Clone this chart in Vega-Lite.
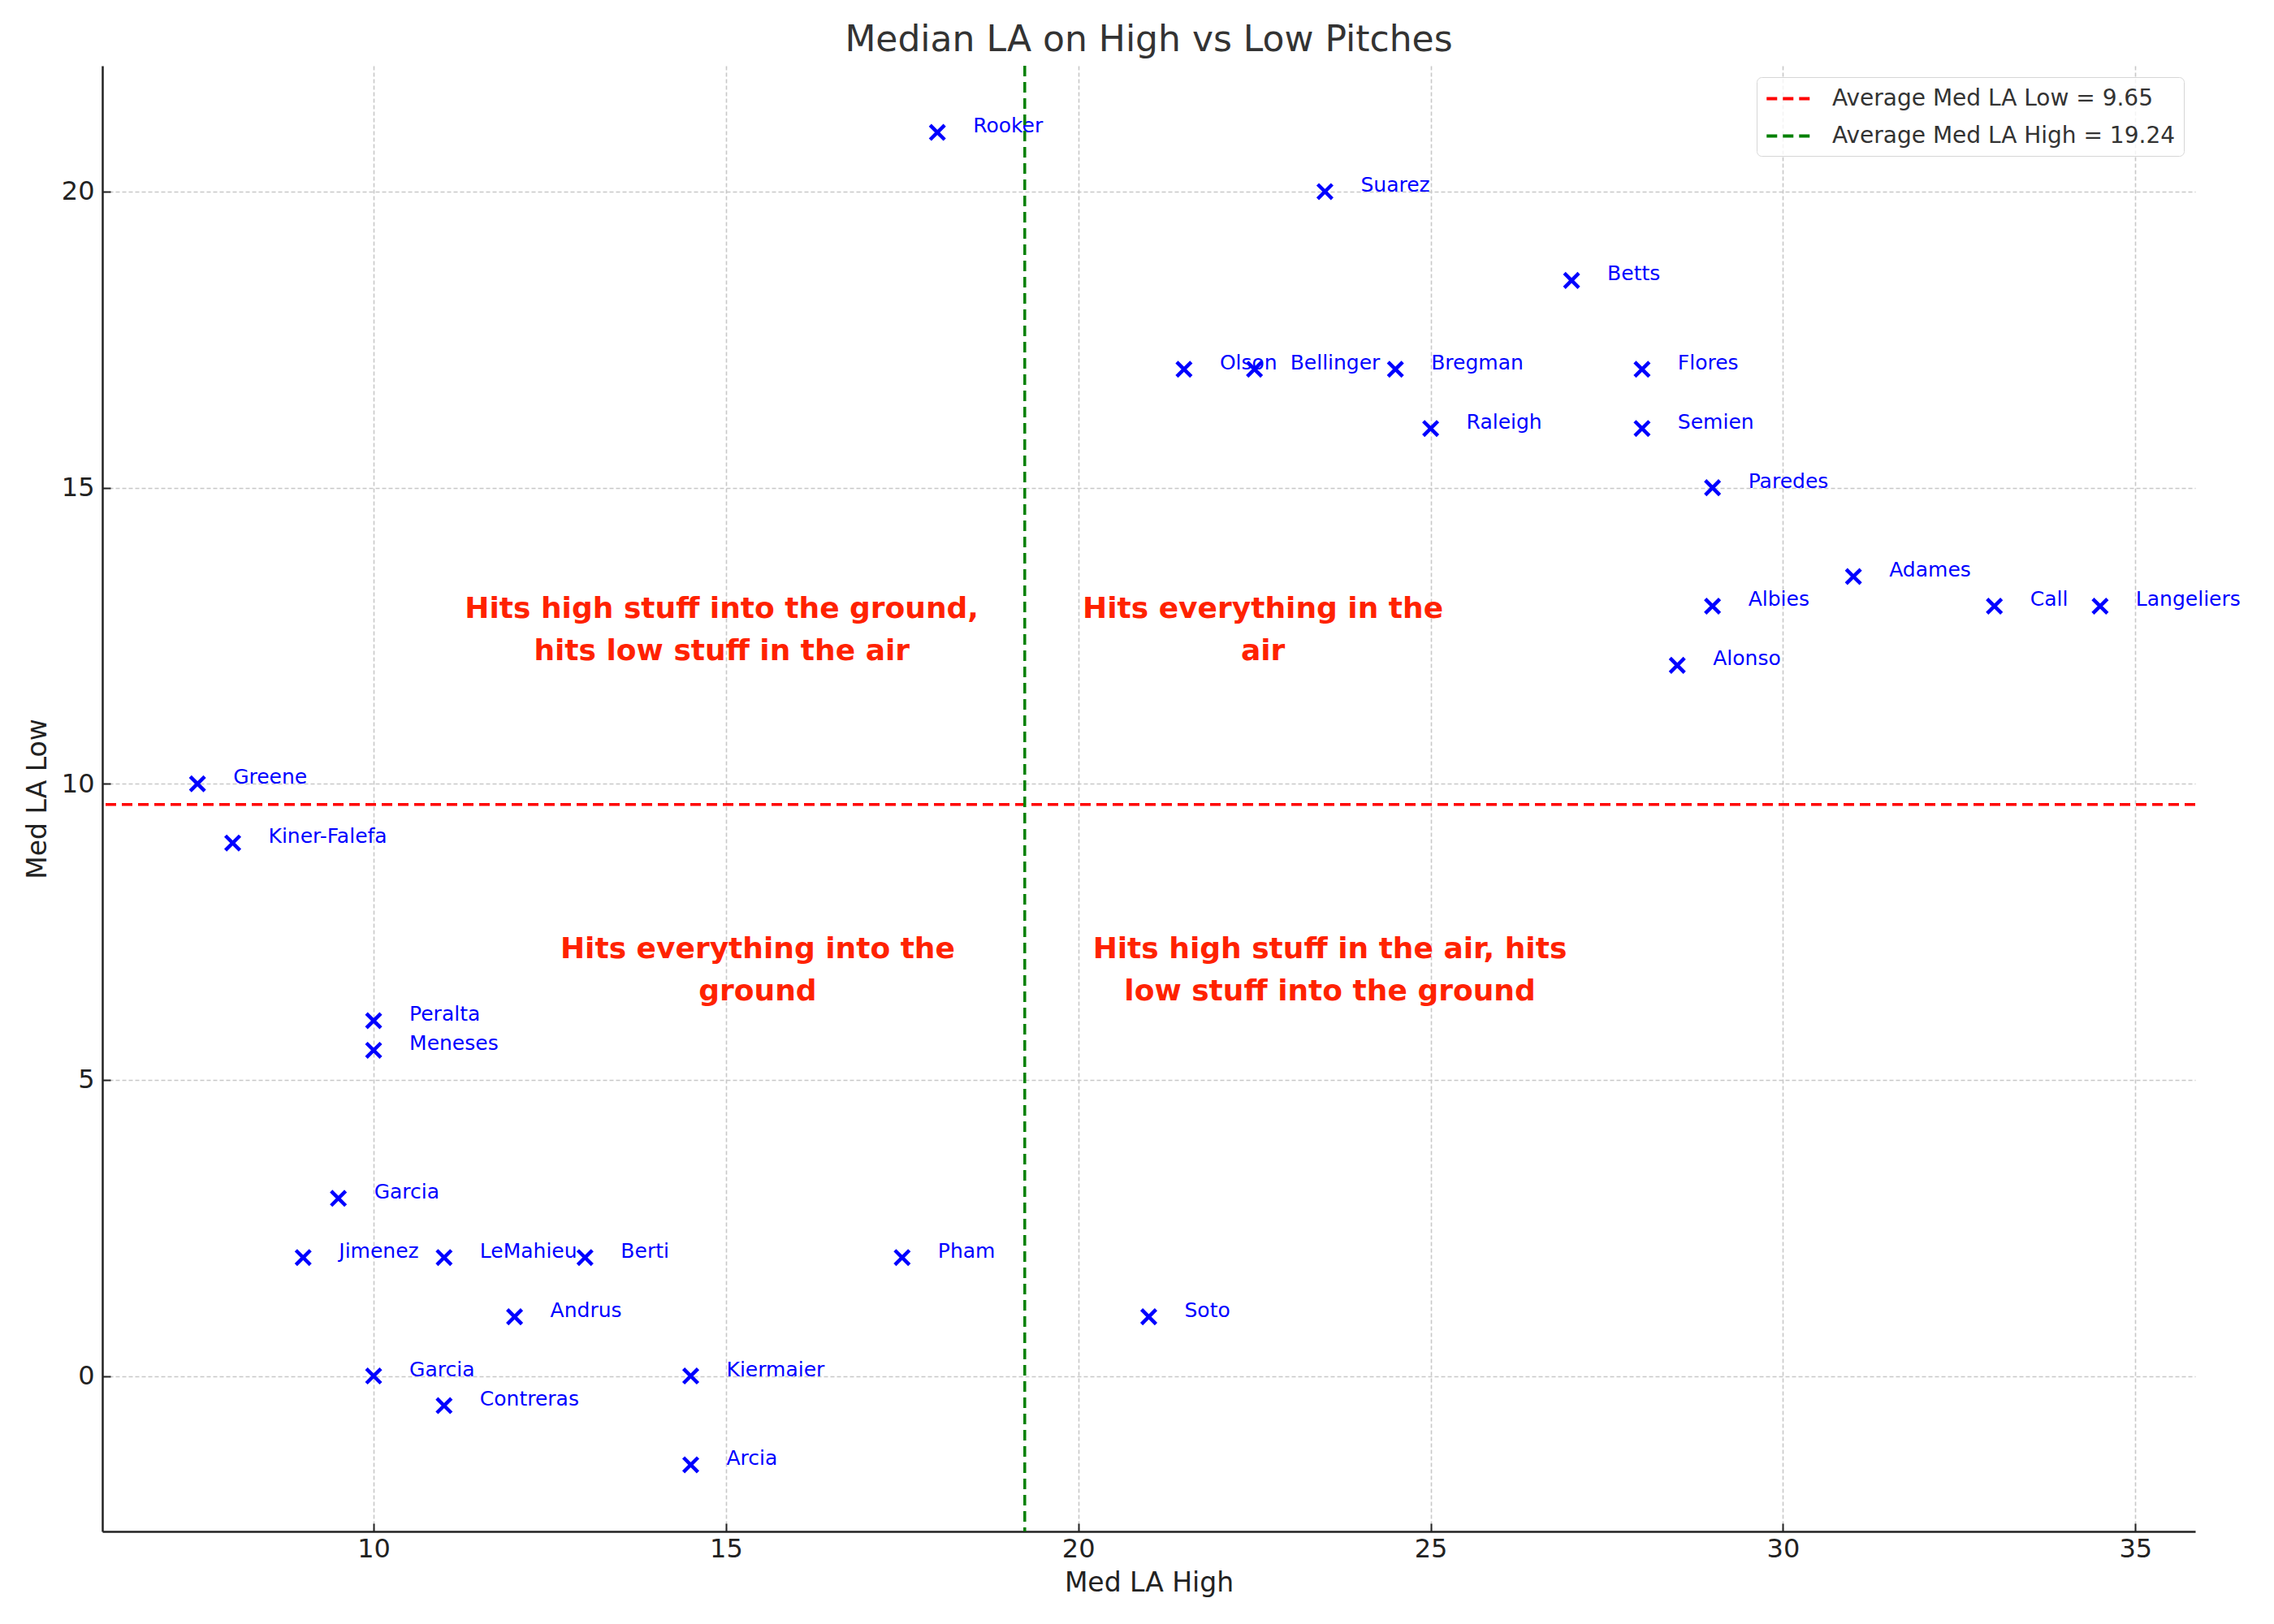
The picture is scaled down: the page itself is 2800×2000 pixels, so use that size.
{
  "$schema": "https://vega.github.io/schema/vega-lite/v6.json",
  "width": 2577,
  "height": 1805,
  "autosize": "none",
  "padding": {"left": 126, "top": 81, "right": 97, "bottom": 114},
  "background": "white",
  "title": {
    "text": "Median LA on High vs Low Pitches",
    "fontSize": 44,
    "font": "DejaVu Sans",
    "fontWeight": "normal",
    "color": "#333333",
    "anchor": "middle",
    "offset": 7
  },
  "datasets": {
    "players": [
      {"name": "Rooker", "high": 18, "low": 21},
      {"name": "Suarez", "high": 23.5, "low": 20},
      {"name": "Betts", "high": 27, "low": 18.5},
      {"name": "Olson", "high": 21.5, "low": 17},
      {"name": "Bellinger", "high": 22.5, "low": 17},
      {"name": "Bregman", "high": 24.5, "low": 17},
      {"name": "Flores", "high": 28, "low": 17},
      {"name": "Raleigh", "high": 25, "low": 16},
      {"name": "Semien", "high": 28, "low": 16},
      {"name": "Paredes", "high": 29, "low": 15},
      {"name": "Adames", "high": 31, "low": 13.5},
      {"name": "Albies", "high": 29, "low": 13},
      {"name": "Call", "high": 33, "low": 13},
      {"name": "Langeliers", "high": 34.5, "low": 13},
      {"name": "Alonso", "high": 28.5, "low": 12},
      {"name": "Greene", "high": 7.5, "low": 10},
      {"name": "Kiner-Falefa", "high": 8, "low": 9},
      {"name": "Peralta", "high": 10, "low": 6},
      {"name": "Meneses", "high": 10, "low": 5.5},
      {"name": "Garcia", "high": 9.5, "low": 3},
      {"name": "Jimenez", "high": 9, "low": 2},
      {"name": "LeMahieu", "high": 11, "low": 2},
      {"name": "Berti", "high": 13, "low": 2},
      {"name": "Pham", "high": 17.5, "low": 2},
      {"name": "Andrus", "high": 12, "low": 1},
      {"name": "Soto", "high": 21, "low": 1},
      {"name": "Garcia", "high": 10, "low": 0},
      {"name": "Kiermaier", "high": 14.5, "low": 0},
      {"name": "Contreras", "high": 11, "low": -0.5},
      {"name": "Arcia", "high": 14.5, "low": -1.5}
    ],
    "quadrants": [
      {"high": 14.94, "low": 12.95, "note": "Hits high stuff into the ground,\nhits low stuff in the air"},
      {"high": 22.62, "low": 12.95, "note": "Hits everything in the\nair"},
      {"high": 15.45, "low": 7.2, "note": "Hits everything into the\nground"},
      {"high": 23.57, "low": 7.2, "note": "Hits high stuff in the air, hits\nlow stuff into the ground"}
    ]
  },
  "layer": [
    {
      "data": {"name": "players"},
      "mark": {
        "type": "point",
        "shape": "M-1,-1L1,1M-1,1L1,-1",
        "filled": false,
        "size": 320,
        "strokeWidth": 4.5,
        "color": "#0000ff",
        "opacity": 1
      },
      "encoding": {
        "x": {
          "field": "high",
          "type": "quantitative",
          "title": "Med LA High",
          "scale": {"domain": [6.15, 35.85], "nice": false, "zero": false},
          "axis": {"values": [10, 15, 20, 25, 30, 35], "format": "d", "titlePadding": 10, "labelPadding": 16}
        },
        "y": {
          "field": "low",
          "type": "quantitative",
          "title": "Med LA Low",
          "scale": {"domain": [-2.625, 22.125], "nice": false, "zero": false},
          "axis": {"values": [0, 5, 10, 15, 20], "format": "d", "titlePadding": 12, "labelPadding": 20}
        }
      }
    },
    {
      "data": {"name": "players"},
      "mark": {
        "type": "text",
        "align": "left",
        "baseline": "alphabetic",
        "dx": 44,
        "fontSize": 25,
        "font": "DejaVu Sans",
        "color": "#0000ff"
      },
      "encoding": {
        "x": {"field": "high", "type": "quantitative"},
        "y": {"field": "low", "type": "quantitative"},
        "text": {"field": "name", "type": "nominal"}
      }
    },
    {
      "data": {"values": [{"label": "Average Med LA Low = 9.65", "value": 9.65}]},
      "mark": {"type": "rule", "strokeWidth": 3.5, "strokeDash": [13, 7]},
      "encoding": {
        "y": {"field": "value", "type": "quantitative"},
        "color": {
          "field": "label",
          "type": "nominal",
          "scale": {
            "domain": ["Average Med LA Low = 9.65", "Average Med LA High = 19.24"],
            "range": ["#ff0000", "#008000"]
          },
          "legend": {
            "title": null,
            "orient": "top-right",
            "offset": 14,
            "padding": 10,
            "rowPadding": 15,
            "labelFontSize": 28,
            "labelFont": "DejaVu Sans",
            "labelColor": "#333333",
            "labelLimit": 1000,
            "labelOffset": 50,
            "symbolType": "M-1,0L3,0",
            "symbolSize": 812,
            "symbolStrokeWidth": 4,
            "symbolDash": [13, 7],
            "symbolFillColor": "transparent",
            "strokeColor": "#d6d6d6",
            "cornerRadius": 6,
            "fillColor": "rgba(255,255,255,0.8)"
          }
        }
      }
    },
    {
      "data": {"values": [{"label": "Average Med LA High = 19.24", "value": 19.24}]},
      "mark": {"type": "rule", "strokeWidth": 3.5, "strokeDash": [13, 7]},
      "encoding": {
        "x": {"field": "value", "type": "quantitative"},
        "color": {"field": "label", "type": "nominal"}
      }
    },
    {
      "data": {"name": "quadrants"},
      "mark": {
        "type": "text",
        "align": "center",
        "baseline": "middle",
        "lineBreak": "\n",
        "lineHeight": 52,
        "fontSize": 36,
        "font": "DejaVu Sans",
        "fontWeight": "bold",
        "color": "#ff2200"
      },
      "encoding": {
        "x": {"field": "high", "type": "quantitative"},
        "y": {"field": "low", "type": "quantitative"},
        "text": {"field": "note", "type": "nominal"}
      }
    }
  ],
  "config": {
    "view": {"stroke": null},
    "axis": {
      "labelFont": "DejaVu Sans",
      "labelFontSize": 32,
      "labelColor": "#222222",
      "titleFont": "DejaVu Sans",
      "titleFontSize": 33,
      "titleFontWeight": "normal",
      "titleColor": "#222222",
      "domainColor": "#222222",
      "domainWidth": 2.5,
      "tickColor": "#222222",
      "tickWidth": 2,
      "tickSize": -10,
      "gridColor": "#c8c8c8",
      "gridDash": [5, 3],
      "gridWidth": 1.6
    }
  }
}
